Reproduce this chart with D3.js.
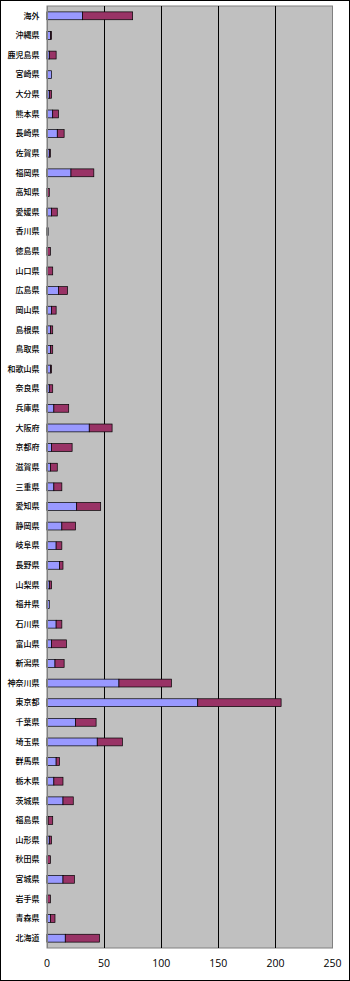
<!DOCTYPE html>
<html><head><meta charset="utf-8">
<script src="https://cdn.jsdelivr.net/npm/d3@7"></script>
<style>html,body{margin:0;padding:0;background:#fff;}svg{display:block;}</style>
</head><body>
<script>
const categories = ["海外","沖縄県","鹿児島県","宮崎県","大分県","熊本県","長崎県","佐賀県","福岡県","高知県","愛媛県","香川県","徳島県","山口県","広島県","岡山県","島根県","鳥取県","和歌山県","奈良県","兵庫県","大阪府","京都府","滋賀県","三重県","愛知県","静岡県","岐阜県","長野県","山梨県","福井県","石川県","富山県","新潟県","神奈川県","東京都","千葉県","埼玉県","群馬県","栃木県","茨城県","福島県","山形県","秋田県","宮城県","岩手県","青森県","北海道"];
const series1 = [31,3,2,4,2,5,9,2,21,0,4,1,0,0,10,4,3,3,3,2,6,37,4,3,6,26,13,8,11,2,2,8,4,7,63,132,25,44,8,6,14,1,2,0,14,0,3,16];
const series2 = [44,1,6,0,2,5,6,1,20,2,5,0,3,5,8,4,2,2,1,3,13,20,18,6,7,21,12,5,3,2,0,5,13,8,46,73,18,22,3,8,9,4,2,3,10,3,4,30];
const xTicks = [0,50,100,150,200,250];
const colors = ["#9999ff","#993366"];

const W = 350, H = 981;
const svg = d3.select("body").append("svg").attr("width", W).attr("height", H);
svg.append("rect").attr("x",0.5).attr("y",0.5).attr("width",W-1).attr("height",H-1)
  .attr("fill","#fff").attr("stroke","#000");

const mL = 47, mR = 332.5, mT = 6, mB = 948;
const x = d3.scaleLinear().domain([0,250]).range([mL, mR]);
const y = d3.scaleBand().domain(categories).range([mT, mB]).paddingInner(0.6).paddingOuter(0.3);

svg.append("rect").attr("x",mL).attr("y",mT).attr("width",mR-mL).attr("height",mB-mT)
  .attr("fill","#c0c0c0").attr("stroke","#808080");

// gridlines
svg.append("g").selectAll("line").data(xTicks.filter(d=>d>0 && d<250)).join("line")
  .attr("x1",d=>Math.round(x(d))+0.5).attr("x2",d=>Math.round(x(d))+0.5)
  .attr("y1",mT).attr("y2",mB).attr("stroke","#000").attr("stroke-width",1);

// stacked bars
const rows = categories.map((c,i)=>({c, a:series1[i], b:series2[i]}));
const stack = d3.stack().keys(["a","b"])(rows);
svg.append("g").selectAll("g").data(stack).join("g").attr("fill",(d,i)=>colors[i])
  .selectAll("rect").data(d=>d.filter(s=>s[1]-s[0]>0)).join("rect")
  .attr("x",d=>x(d[0])).attr("width",d=>x(d[1])-x(d[0]))
  .attr("y",d=>y(d.data.c)).attr("height",y.bandwidth())
  .attr("stroke","#000").attr("stroke-width",0.7);

// left axis line
svg.append("line").attr("x1",mL+0.5).attr("x2",mL+0.5).attr("y1",mT).attr("y2",mB).attr("stroke","#808080");

// category labels
svg.append("g").selectAll("text").data(categories).join("text")
  .attr("x",39.5).attr("y",d=>y(d)+y.bandwidth()/2).attr("dy","0.35em")
  .attr("text-anchor","end").attr("font-family","'Noto Sans CJK JP', sans-serif")
  .attr("font-size","8px").attr("font-weight","500").attr("fill","#000").text(d=>d);

// x tick labels
svg.append("g").selectAll("text").data(xTicks).join("text")
  .attr("x",d=>x(d)).attr("y",963).attr("dy","0.35em").attr("text-anchor","middle")
  .attr("font-family","'Open Sans', sans-serif").attr("font-size","10.5px").attr("fill","#000")
  .text(d=>d);
</script>
</body></html>
